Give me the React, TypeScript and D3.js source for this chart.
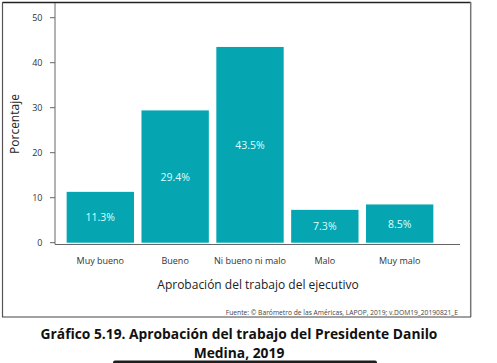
import React from "react";
import * as d3 from "d3";

const categories = ["Muy bueno", "Bueno", "Ni bueno ni malo", "Malo", "Muy malo"];
const values = [11.3, 29.4, 43.5, 7.3, 8.5];
const yTicks = [0, 10, 20, 30, 40, 50];

const W = 497;
const H = 363;
const FONT = "'Open Sans', 'Noto Sans', sans-serif";

export default function App() {
  const x = d3
    .scaleBand<string>()
    .domain(categories)
    .range([62.9, 437.1])
    .paddingInner(0.1)
    .paddingOuter(0.05);
  const y = d3.scaleLinear().domain([0, 50]).range([242.7, 17.7]);

  return (
    <svg
      width={W}
      height={H}
      style={{ position: "absolute", left: 0, top: 0, background: "#fff" }}
      fontFamily={FONT}
    >
      {/* frame */}
      <line x1={2.5} y1={2.5} x2={471} y2={2.5} stroke="#222" strokeWidth={1.5} />
      <line x1={2.5} y1={2} x2={2.5} y2={317} stroke="#555" strokeWidth={1.2} />
      <line x1={470.7} y1={2} x2={470.7} y2={317} stroke="#777" strokeWidth={1.5} />
      <line x1={2} y1={317} x2={471} y2={317} stroke="#444" strokeWidth={1.2} />

      {/* bars */}
      {categories.map((c, i) => (
        <g key={c}>
          <rect
            x={x(c)}
            y={y(values[i])}
            width={x.bandwidth()}
            height={y(0) - y(values[i])}
            fill="#05a6b1"
          />
          <text
            x={(x(c) as number) + x.bandwidth() / 2}
            y={(y(values[i]) + y(0)) / 2}
            textAnchor="middle"
            dominantBaseline="central"
            fontSize={10.5}
            fill="#dcffff"
          >
            {values[i].toFixed(1)}%
          </text>
          <text
            x={(x(c) as number) + x.bandwidth() / 2}
            y={260}
            textAnchor="middle"
            dominantBaseline="central"
            fontSize={9}
            fill="#333"
          >
            {c}
          </text>
        </g>
      ))}

      {/* y axis */}
      <line x1={55} y1={3} x2={55} y2={244.5} stroke="#666" strokeWidth={1} />
      {yTicks.map((t) => (
        <g key={t}>
          <line x1={50} x2={55} y1={y(t)} y2={y(t)} stroke="#666" strokeWidth={1} />
          <text
            x={42.5}
            y={y(t)}
            textAnchor="end"
            dominantBaseline="central"
            fontSize={9}
            fill="#333"
          >
            {t}
          </text>
        </g>
      ))}
      {/* x axis */}
      <line x1={55} y1={244.5} x2={460} y2={244.5} stroke="#666" strokeWidth={1} />

      {/* axis titles */}
      <text
        transform={`translate(14,124) rotate(-90)`}
        textAnchor="middle"
        dominantBaseline="central"
        fontSize={12}
        fill="#222"
      >
        Porcentaje
      </text>
      <text
        x={258}
        y={284}
        textAnchor="middle"
        dominantBaseline="central"
        fontSize={12}
        fill="#222"
      >
        Aprobación del trabajo del ejecutivo
      </text>

      {/* source */}
      <text x={458} y={312} textAnchor="end" dominantBaseline="central" fontSize={6.7} fill="#444">
        Fuente: © Barómetro de las Américas, LAPOP, 2019; v.DOM19_20190821_E
      </text>

      {/* caption */}
      <text
        x={239}
        y={333}
        textAnchor="middle"
        dominantBaseline="central"
        fontSize={13.8}
        fontWeight="bold"
        fill="#111"
      >
        Gráfico 5.19. Aprobación del trabajo del Presidente Danilo
      </text>
      <text
        x={239}
        y={352}
        textAnchor="middle"
        dominantBaseline="central"
        fontSize={13.8}
        fontWeight="bold"
        fill="#111"
      >
        Medina, 2019
      </text>
      <rect x={113} y={360.5} width={264} height={6} rx={2} fill="#1e1e1e" />
    </svg>
  );
}
